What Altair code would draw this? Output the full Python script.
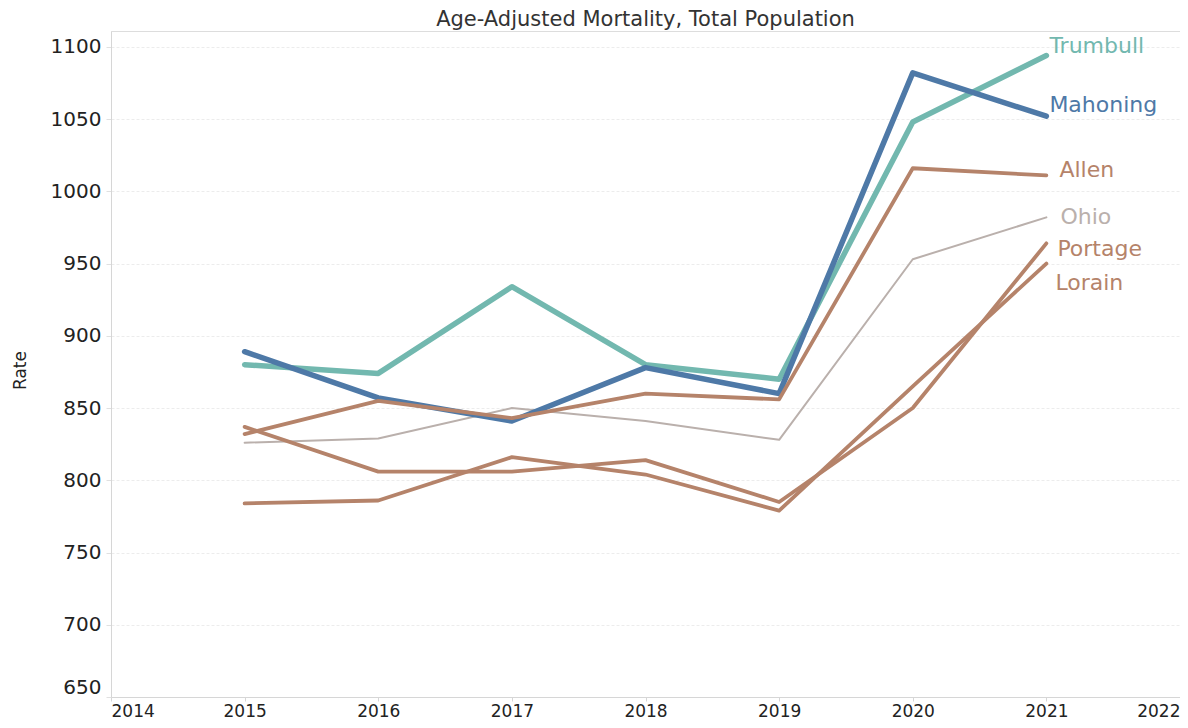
import altair as alt
import pandas as pd

years = [2015, 2016, 2017, 2018, 2019, 2020, 2021]
trumbull = [880, 874, 934, 880, 870, 1048, 1094]
mahoning = [889, 857, 841, 878, 860, 1082, 1052]
allen = [832, 855, 843, 860, 856, 1016, 1011]
ohio = [826, 829, 850, 841, 828, 953, 982]
portage = [837, 806, 806, 814, 785, 850, 964]
lorain = [784, 786, 816, 804, 779, 865, 950]

series_names = ["Ohio", "Trumbull", "Mahoning", "Allen", "Portage", "Lorain"]
series_values = [ohio, trumbull, mahoning, allen, portage, lorain]
series_colors = ["#BAB0AC", "#72B8AF", "#4E79A7", "#B5836A", "#B5836A", "#B5836A"]
series_widths = [2, 5.5, 5.5, 3.8, 3.8, 3.8]
label_dx = [14, 3, 3, 13, 11, 9]
label_dy = [0, -10, -11, -5, 6, 19]

rows = []
for name, vals in zip(series_names, series_values):
    for yr, v in zip(years, vals):
        rows.append({"county": name, "year": yr, "rate": v})
df = pd.DataFrame(rows)

x_scale = alt.Scale(domain=[2014, 2022], nice=False, zero=False)
y_scale = alt.Scale(domain=[650, 1111], nice=False, zero=False)

x_axis = alt.Axis(
    values=list(range(2014, 2023)), format="d", title=None, grid=False,
    labelFont="DejaVu Sans", labelFontSize=17, labelColor="#222",
    tickColor="#d6d6d6", tickSize=4, labelPadding=2,
    domainColor="#d6d6d6", labelFlush=True, labelOverlap=False,
)
y_axis = alt.Axis(
    values=list(range(650, 1101, 50)), format="d", title="Rate", grid=True,
    gridColor="#ececec", gridDash=[3, 2], gridWidth=1,
    labelFont="DejaVu Sans", labelFontSize=20, labelColor="#222",
    tickColor="#e0e0e0", tickSize=5, labelPadding=5,
    domainColor="#d6d6d6",
    titleFont="DejaVu Sans", titleFontSize=17, titleFontWeight="normal",
    titleColor="#222", titleAngle=-90, titleX=-91, titleY=339,
    titleAlign="center", titleBaseline="middle", labelFlush=True,
)

enc_x = alt.X("year:Q", scale=x_scale, axis=x_axis)
enc_y = alt.Y("rate:Q", scale=y_scale, axis=y_axis)

layers = []
for name, color, w in zip(series_names, series_colors, series_widths):
    line = alt.Chart(df).transform_filter(alt.datum.county == name).mark_line(
        color=color, strokeWidth=w, strokeCap="round", strokeJoin="round"
    ).encode(x=enc_x, y=enc_y)
    layers.append(line)

for name, color, dx, dy in zip(series_names, series_colors, label_dx, label_dy):
    lbl = alt.Chart(df).transform_filter(
        (alt.datum.county == name) & (alt.datum.year == 2021)
    ).mark_text(align="left", baseline="middle", dx=dx, dy=dy, color=color,
                font="DejaVu Sans", fontSize=22).encode(
        x=enc_x, y=enc_y, text="county:N",
    )
    layers.append(lbl)

chart = alt.layer(*layers).properties(
    width=1069, height=666,
    title=alt.TitleParams("Age-Adjusted Mortality, Total Population",
                          font="DejaVu Sans", fontSize=21, fontWeight="normal",
                          color="#333", anchor="middle", offset=1),
    autosize=alt.AutoSizeParams(type="none"),
    padding={"left": 103, "top": 23, "right": 0, "bottom": 23},
).configure_view(stroke="#ececec").configure(background="white")

chart.save("out.html", embed_options={"renderer": "svg", "actions": False})
